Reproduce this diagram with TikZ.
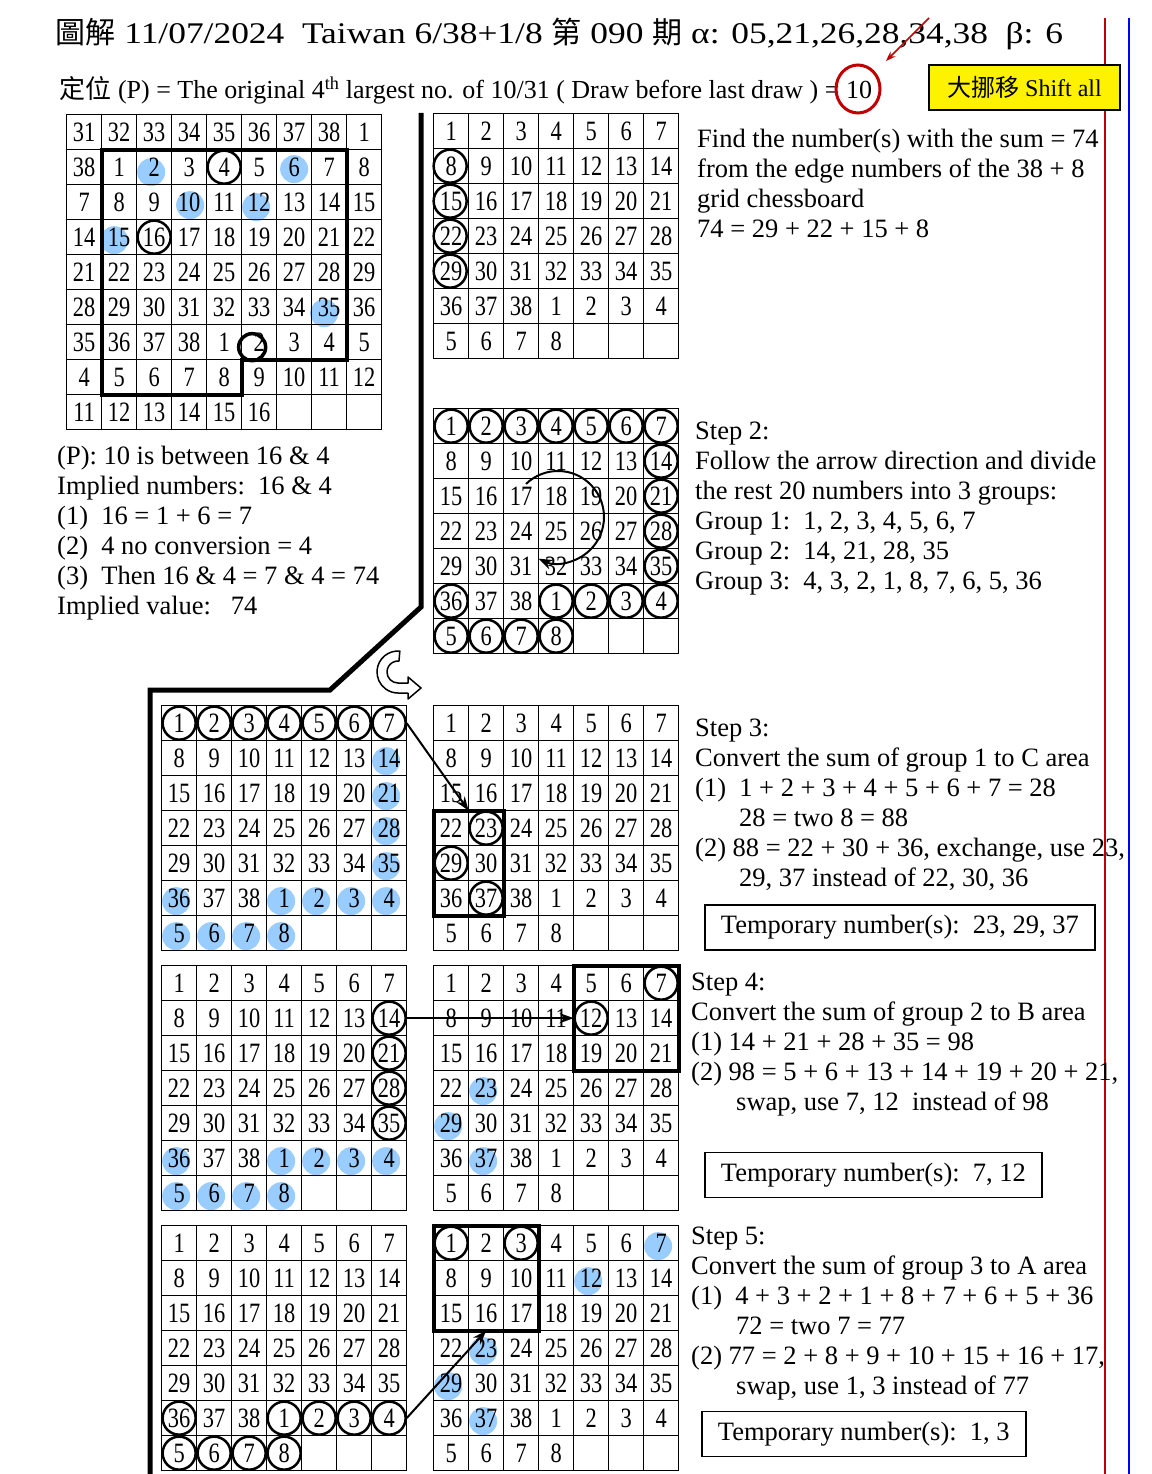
\documentclass[tikz,border=0pt]{standalone}
\usepackage{fontspec}
\setmainfont{Liberation Serif}
\newfontfamily\numfamily[FakeStretch=0.8]{Liberation Serif}
\newfontfamily\titlefamily[FakeStretch=1.18]{Liberation Serif}
\newfontfamily\cjkfont{Noto Sans CJK TC}
\usetikzlibrary{matrix, positioning, shapes.geometric, arrows.meta, backgrounds}

\definecolor{dotblue}{RGB}{153,204,255}
\definecolor{markred}{RGB}{192,0,0}
\definecolor{guideblue}{RGB}{0,0,255}

\newcommand\numfont{\numfamily\fontsize{28}{28}\selectfont}
\newcommand\bodyfont{\fontsize{26.5}{30}\selectfont}

% the 38+8 chessboard, 7 columns
\newcommand\chessbody{%
1\&2\&3\&4\&5\&6\&7\\
8\&9\&10\&11\&12\&13\&14\\
15\&16\&17\&18\&19\&20\&21\\
22\&23\&24\&25\&26\&27\&28\\
29\&30\&31\&32\&33\&34\&35\\
36\&37\&38\&1\&2\&3\&4\\
5\&6\&7\&8\&\&\&\\
}

\tikzset{
  chess/.style={matrix of nodes, nodes in empty cells, ampersand replacement=\&,
    anchor=north west, inner sep=0pt, outer sep=0pt, row sep=-1.3pt, column sep=-1.3pt,
    nodes={draw, line width=1.3pt, minimum width=35pt, minimum height=35pt,
      inner sep=0pt, outer sep=0pt, anchor=center, font=\numfont}},
  ring/.style={draw, line width=2.5pt},
  bigring/.style={draw, line width=3.5pt},
  dot/.style={fill=dotblue},
  area/.style={draw, line width=3.8pt, line join=miter},
  conn/.style={line width=2pt, -{Stealth[length=14pt, width=10pt]}},
  txt/.style={font=\bodyfont, align=left, inner sep=0pt, anchor=north west},
  tmpbox/.style={draw, line width=1.8pt, font=\bodyfont, inner xsep=16pt,
    minimum height=45pt, anchor=west},
}

\begin{document}
\begin{tikzpicture}[x=1pt, y=-1pt]
\useasboundingbox (0,0) rectangle (1151,1474);

% guide lines at the right
\draw[markred, line width=1.5pt] (1105,18) -- (1105,1474);
\draw[guideblue, line width=1.5pt] (1129,18) -- (1129,1474);

% heading
\node[anchor=base west, font=\titlefamily\fontsize{30}{30}\selectfont] (title) at (52,44)
  {{\cjkfont 圖解} 11/07/2024\ \ Taiwan 6/38+1/8 {\cjkfont 第} 090 {\cjkfont 期} α: 05,21,26,28,34,38\ \ β: 6};
\node[anchor=base west, font=\fontsize{26}{30}\selectfont] (rule) at (56,99)
  {{\cjkfont 定位} (P) = The original 4\textsuperscript{th} largest no. of 10/31 ( Draw before last draw ) = 10};
\node[draw=markred, ellipse, line width=3pt, minimum width=44pt, minimum height=48pt] (ten) at (858,89) {};
\coordinate (pin) at (929,18);
\draw[markred, line width=1.5pt, -{Stealth[length=10pt, width=7pt]}, shorten >=15pt] (pin) -- (ten);
\node[draw, line width=2.5pt, fill=yellow, minimum width=191pt, minimum height=45pt,
  font=\fontsize{24}{24}\selectfont] (shift) at (1024.5,87.5) {{\cjkfont 大挪移} Shift all};

% position board
\matrix (board) [chess] at (66,114) {
31\&32\&33\&34\&35\&36\&37\&38\&1\\
38\&1\&2\&3\&4\&5\&6\&7\&8\\
7\&8\&9\&10\&11\&12\&13\&14\&15\\
14\&15\&16\&17\&18\&19\&20\&21\&22\\
21\&22\&23\&24\&25\&26\&27\&28\&29\\
28\&29\&30\&31\&32\&33\&34\&35\&36\\
35\&36\&37\&38\&1\&2\&3\&4\&5\\
4\&5\&6\&7\&8\&9\&10\&11\&12\\
11\&12\&13\&14\&15\&16\&\&\&\\
};
\draw[area] (board-2-2.north west) -- (board-2-8.north east) -- (board-7-8.south east)
  -- (board-7-6.south west) -- (board-8-6.south west) -- (board-8-2.south west) -- cycle;
\draw[ring] (board-2-5) circle[radius=16.5pt];
\draw[ring] (board-4-3) circle[radius=16.5pt];
\draw[bigring] ([shift={(-7,5)}]board-7-6) circle[radius=13.5pt];

% the other boards
\matrix (edge) [chess] at (433,113) {\chessbody};
\matrix (flow) [chess] at (433,408) {\chessbody};
\matrix (cL) [chess] at (161,705) {\chessbody};
\matrix (cR) [chess] at (433,705) {\chessbody};
\matrix (bL) [chess] at (161,965) {\chessbody};
\matrix (bR) [chess] at (433,965) {\chessbody};
\matrix (aL) [chess] at (161,1225) {\chessbody};
\matrix (aR) [chess] at (433,1225) {\chessbody};

% edge numbers
\foreach \r in {2,...,5} \draw[ring] ([xshift=-1pt]edge-\r-1) circle[radius=16.5pt];

% step 2
\foreach \c in {1,...,7} \draw[ring] (flow-1-\c) circle[radius=16.5pt];
\foreach \r in {2,...,5} \draw[ring] (flow-\r-7) circle[radius=16.5pt];
\foreach \c in {1,4,5,6,7} \draw[ring] (flow-6-\c) circle[radius=16.5pt];
\foreach \c in {1,...,4} \draw[ring] (flow-7-\c) circle[radius=16.5pt];
\coordinate (swirl) at (558,517);
\draw[conn] ([shift={(226:46)}]swirl) arc[start angle=226, end angle=475, radius=46];

% step 3
\foreach \c in {1,...,7} \draw[ring] (cL-1-\c) circle[radius=16.5pt];
\foreach \r/\c in {4/2,5/1,6/2} \draw[ring] (cR-\r-\c) circle[radius=16.5pt];
\draw[area] (cR-4-1.north west) rectangle (cR-6-2.south east);
\draw[conn] (cL-1-7.east) -- (cR-4-2.north west);

% step 4
\foreach \r in {2,...,5} \draw[ring] (bL-\r-7) circle[radius=16.5pt];
\foreach \r/\c in {1/7,2/5} \draw[ring] (bR-\r-\c) circle[radius=16.5pt];
\draw[area] (bR-1-5.north west) rectangle (bR-3-7.south east);
\draw[conn] (bL-2-7.east) -- (bR-2-5.west);

% step 5
\foreach \c in {1,4,5,6,7} \draw[ring] (aL-6-\c) circle[radius=16.5pt];
\foreach \c in {1,...,4} \draw[ring] (aL-7-\c) circle[radius=16.5pt];
\foreach \r/\c in {1/1,1/3} \draw[ring] (aR-\r-\c) circle[radius=16.5pt];
\draw[area] (aR-1-1.north west) rectangle (aR-3-3.south east);
\draw[conn] (aL-6-7.east) -- (aR-3-2.south);

% blue marks under the numbers
\begin{scope}[on background layer]
  \foreach \r/\c/\dx/\dy in {2/3/-3/5, 2/7/0/2, 3/4/1/3, 3/6/-3/5, 4/2/-5/3, 6/8/-5/6}
    \fill[dot] ([shift={(\dx,\dy)}]board-\r-\c) circle[radius=14pt];
  \foreach \g in {cL,bL}
    \foreach \r/\c in {6/1,6/4,6/5,6/6,6/7,7/1,7/2,7/3,7/4}
      \fill[dot] ([shift={(-3,3)}]\g-\r-\c) circle[radius=14pt];
  \foreach \r in {2,...,5} \fill[dot] ([shift={(-3,3)}]cL-\r-7) circle[radius=14pt];
  \foreach \g in {bR,aR}
    \foreach \r/\c in {4/2,5/1,6/2}
      \fill[dot] ([shift={(-3,3)}]\g-\r-\c) circle[radius=14pt];
  \foreach \r/\c in {1/7,2/5} \fill[dot] ([shift={(-3,3)}]aR-\r-\c) circle[radius=14pt];
\end{scope}

% divider
\draw[line width=5pt] (421,113) -- (421,607) -- (330,690) -- (150,690) -- (150,1474);

% turning arrow
\draw[line width=1.5pt, fill=white, line join=round] (398,672) ++(275:21)
  arc[start angle=275, end angle=90, radius=21] -- (408,693) -- (408,699) -- (421,688)
  -- (408,677) -- (408,683) -- (398,683) arc[start angle=90, end angle=275, radius=11] -- cycle;

% texts
\node[txt] (find) at (697,129) {Find the number(s) with the sum = 74\\
  from the edge numbers of the 38 + 8\\ grid chessboard\\ 74 = 29 + 22 + 15 + 8};
\node[txt] (implied) at (57,446) {(P): 10 is between 16 \& 4\\
  Implied numbers:\ \ 16 \& 4\\ (1)\ \ 16 = 1 + 6 = 7\\ (2)\ \ 4 no conversion = 4\\
  (3)\ \ Then 16 \& 4 = 7 \& 4 = 74\\ Implied value:\ \ \ 74};
\node[txt] (stepII) at (695,422) {Step 2:\\ Follow the arrow direction and divide\\
  the rest 20 numbers into 3 groups:\\ Group 1:\ \ 1, 2, 3, 4, 5, 6, 7\\
  Group 2:\ \ 14, 21, 28, 35\\ Group 3:\ \ 4, 3, 2, 1, 8, 7, 6, 5, 36};
\node[txt] (stepIII) at (695,719) {Step 3:\\ Convert the sum of group 1 to C area\\
  (1)\ \ 1 + 2 + 3 + 4 + 5 + 6 + 7 = 28\\ \hspace*{44pt}28 = two 8 = 88\\
  (2) 88 = 22 + 30 + 36, exchange, use 23,\\ \hspace*{44pt}29, 37 instead of 22, 30, 36};
\node[txt] (stepIV) at (691,973) {Step 4:\\ Convert the sum of group 2 to B area\\
  (1) 14 + 21 + 28 + 35 = 98\\ (2) 98 = 5 + 6 + 13 + 14 + 19 + 20 + 21,\\
  \hspace*{45pt}swap, use 7, 12\ \ instead of 98};
\node[txt] (stepV) at (691,1227) {Step 5:\\ Convert the sum of group 3 to A area\\
  (1)\ \ 4 + 3 + 2 + 1 + 8 + 7 + 6 + 5 + 36\\ \hspace*{45pt}72 = two 7 = 77\\
  (2) 77 = 2 + 8 + 9 + 10 + 15 + 16 + 17,\\ \hspace*{45pt}swap, use 1, 3 instead of 77};
\node[tmpbox] (tmpC) at (704,927.5) {Temporary number(s):\ \ 23, 29, 37};
\node[tmpbox] (tmpB) at (704,1175) {Temporary number(s):\ \ 7, 12};
\node[tmpbox] (tmpA) at (701,1434) {Temporary number(s):\ \ 1, 3};
\end{tikzpicture}
\end{document}
